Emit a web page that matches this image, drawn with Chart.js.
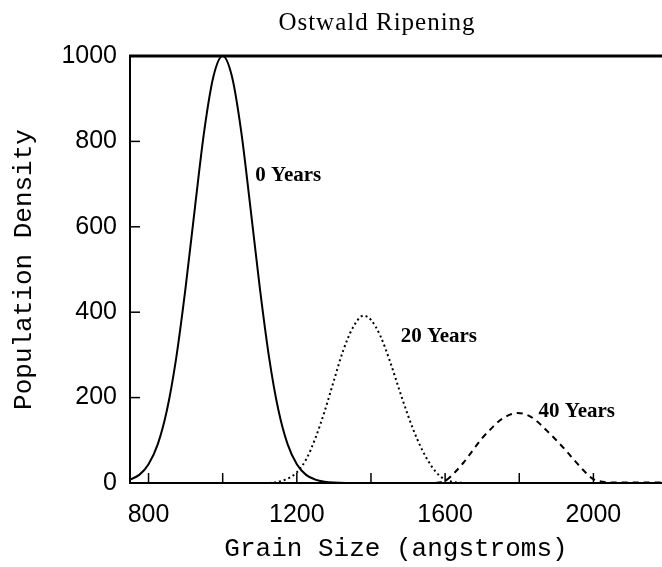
<!DOCTYPE html>
<html lang="en">
<head>
  <meta charset="UTF-8">
  <title>Ostwald Ripening</title>
  <script src="https://cdn.jsdelivr.net/npm/chart.js"></script>
  <style>
    body {
      margin: 0;
      background: #fff;
    }
    .chart-container {
      position: relative;
      width: 662px;
      height: 567px;
    }
  </style>
</head>
<body>
  <div class="chart-container">
    <canvas id="ripeningChart"></canvas>
  </div>

  <script>
    // values (grain size in angstroms, population density)
    const zeroYearsX = [750, 775, 800, 825, 850, 875, 900, 925, 950, 975, 1000, 1025, 1050, 1075, 1100, 1125, 1150, 1175, 1200, 1225, 1250, 1275, 1300, 1350];
    const zeroYearsY = [8, 19, 44, 91, 172, 295, 458, 644, 823, 952, 1000, 952, 823, 644, 458, 295, 172, 91, 44, 19, 8, 3, 1, 0];

    const twentyYearsX = [1125, 1150, 1175, 1200, 1225, 1250, 1275, 1300, 1325, 1350, 1380, 1400, 1425, 1450, 1475, 1500, 1525, 1550, 1575, 1600, 1625, 1650];
    const twentyYearsY = [0, 3, 10, 25, 55, 105, 168, 240, 310, 362, 392, 382, 345, 288, 222, 158, 102, 58, 26, 8, 2, 0];

    const fortyYearsX = [1575, 1600, 1625, 1650, 1675, 1700, 1725, 1750, 1775, 1795, 1825, 1850, 1875, 1900, 1925, 1950, 1975, 2000, 2025, 2050, 2100, 2185];
    const fortyYearsY = [0, 5, 24, 48, 77, 105, 128, 148, 160, 164, 158, 143, 122, 100, 77, 52, 28, 9, 3, 1, 1, 1];

    const xTickValues = [800, 1000, 1200, 1400, 1600, 1800, 2000];
    const yTickValues = [0, 200, 400, 600, 800, 1000];

    const curveLabels = ['0 Years', '20 Years', '40 Years'];
    const curveLabelX = [1088, 1480, 1852];
    const curveLabelY = [721, 343, 167];

    const chartTitle = 'Ostwald Ripening';

    const toPoints = (xs, ys) => xs.map((x, i) => ({ x: x, y: ys[i] }));

    const frame = {
      id: 'frame',
      afterDraw(chart) {
        const { ctx, chartArea: a, scales: { x, y } } = chart;
        ctx.save();
        ctx.strokeStyle = '#000';
        ctx.fillStyle = '#000';

        // top border of the box
        ctx.lineWidth = 3;
        ctx.beginPath();
        ctx.moveTo(a.left - 1, a.top);
        ctx.lineTo(a.right, a.top);
        ctx.stroke();

        // inward tick marks
        ctx.lineWidth = 1.5;
        xTickValues.forEach(v => {
          const px = x.getPixelForValue(v);
          ctx.beginPath();
          ctx.moveTo(px, a.bottom);
          ctx.lineTo(px, a.bottom - 10);
          ctx.stroke();
        });
        yTickValues.slice(1, -1).forEach(v => {
          const py = y.getPixelForValue(v);
          ctx.beginPath();
          ctx.moveTo(a.left, py);
          ctx.lineTo(a.left + 10, py);
          ctx.stroke();
        });

        // curve labels
        ctx.font = 'bold 21px "Liberation Serif", serif';
        ctx.textAlign = 'left';
        ctx.textBaseline = 'middle';
        curveLabels.forEach((t, i) => {
          ctx.fillText(t, x.getPixelForValue(curveLabelX[i]), y.getPixelForValue(curveLabelY[i]));
        });

        // title
        ctx.font = '25px "Liberation Serif", serif';
        ctx.textAlign = 'center';
        ctx.letterSpacing = '1px';
        ctx.fillText(chartTitle, 377, 23);
        ctx.restore();
      }
    };

    const ctx = document.getElementById('ripeningChart').getContext('2d');
    new Chart(ctx, {
      type: 'line',
      data: {
        datasets: [
          {
            label: '0 Years',
            data: toPoints(zeroYearsX, zeroYearsY),
            borderColor: '#000',
            borderWidth: 2
          },
          {
            label: '20 Years',
            data: toPoints(twentyYearsX, twentyYearsY),
            borderColor: '#000',
            borderWidth: 2,
            borderDash: [2, 3]
          },
          {
            label: '40 Years',
            data: toPoints(fortyYearsX, fortyYearsY),
            borderColor: '#000',
            borderWidth: 2,
            borderDash: [6, 5]
          }
        ]
      },
      options: {
        responsive: true,
        maintainAspectRatio: false,
        animation: false,
        layout: {
          padding: { top: 56, right: 0, bottom: 0, left: 0 }
        },
        elements: {
          point: { radius: 0 },
          line: { cubicInterpolationMode: 'monotone', fill: false }
        },
        scales: {
          x: {
            type: 'linear',
            min: 750,
            max: 2185,
            afterBuildTicks: s => { s.ticks = xTickValues.map(v => ({ value: v })); },
            afterFit: s => { s.height = 84; },
            grid: { display: false, drawTicks: false },
            border: { display: true, color: '#000', width: 2 },
            ticks: {
              autoSkip: false,
              maxRotation: 0,
              padding: 17,
              color: '#000',
              font: { family: '"Liberation Sans", sans-serif', size: 25 },
              callback: v => (v % 400 === 0 ? String(v) : '')
            },
            title: {
              display: true,
              text: 'Grain Size (angstroms)',
              color: '#000',
              font: { family: '"Liberation Mono", monospace', size: 26 },
              padding: { top: 0, bottom: 2 }
            }
          },
          y: {
            min: 0,
            max: 1000,
            afterBuildTicks: s => { s.ticks = yTickValues.map(v => ({ value: v })); },
            afterFit: s => { s.width = 130; },
            grid: { display: false, drawTicks: false },
            border: { display: true, color: '#000', width: 2 },
            ticks: {
              padding: 13,
              color: '#000',
              font: { family: '"Liberation Sans", sans-serif', size: 25 },
              callback: v => String(v)
            },
            title: {
              display: true,
              text: 'Population Density',
              color: '#000',
              font: { family: '"Liberation Mono", monospace', size: 26 },
              padding: { top: 9, bottom: 0 }
            }
          }
        },
        plugins: {
          legend: { display: false },
          tooltip: { enabled: false },
          title: { display: false }
        }
      },
      plugins: [frame]
    });
  </script>
</body>
</html>
